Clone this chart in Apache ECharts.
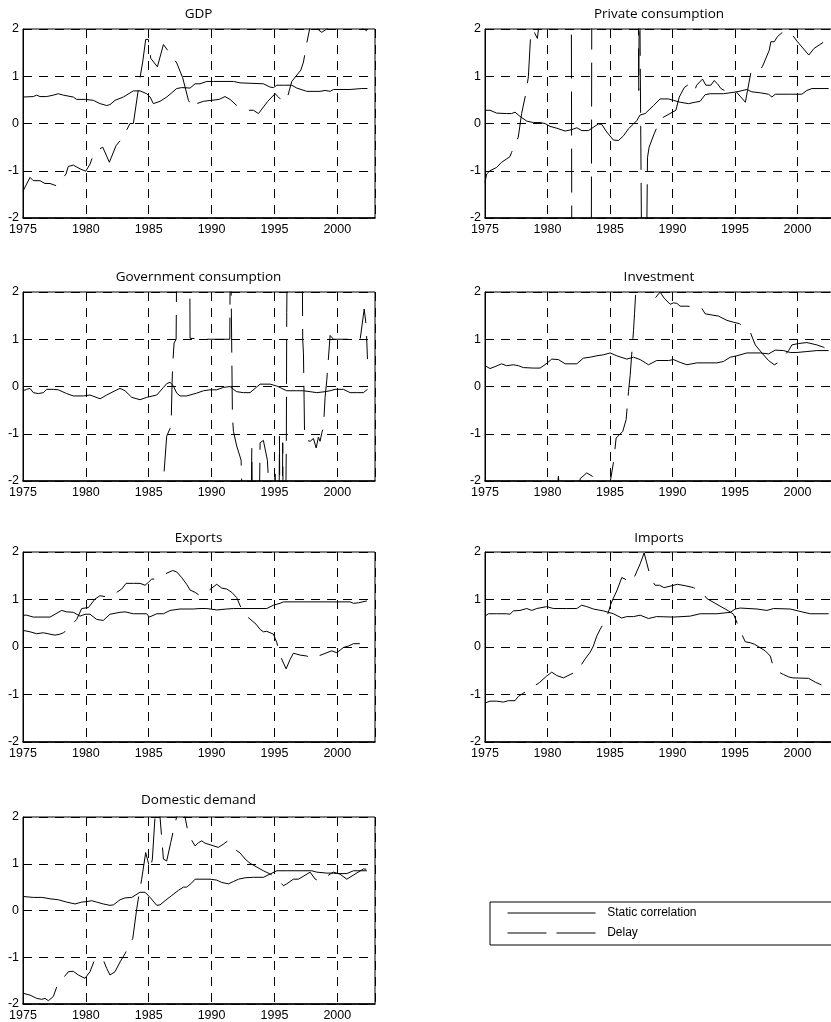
<!DOCTYPE html>
<html><head><meta charset="utf-8">
<script src="https://cdn.jsdelivr.net/npm/echarts/dist/echarts.min.js"></script>
<style>html,body{margin:0;padding:0;background:#fff}#c{width:831px;height:1022px}</style>
</head><body><div id="c"></div>
<script>
const panelTitles = ['GDP','Private consumption','Government consumption','Investment','Exports','Imports','Domestic demand'];
const seriesNames = ['Static correlation','Delay'];
const yearTicks = [1975,1980,1985,1990,1995,2000];
const valueTicks = [-2,-1,0,1,2];

const gdpStatic = [[1975.0,0.56],[1975.82,0.57],[1976.09,0.6],[1976.35,0.57],[1976.88,0.57],[1977.41,0.6],[1977.81,0.63],[1978.21,0.6],[1979.0,0.56],[1979.27,0.51],[1979.99,0.51],[1980.6,0.49],[1981.13,0.42],[1981.66,0.38],[1981.92,0.4],[1982.32,0.49],[1982.98,0.56],[1983.78,0.69],[1984.31,0.69],[1984.84,0.63],[1985.11,0.56],[1985.37,0.42],[1985.45,0.4],[1985.9,0.47],[1986.43,0.56],[1987.23,0.74],[1987.63,0.76],[1988.29,0.75],[1988.69,0.84],[1989.08,0.84],[1989.62,0.89],[1990.15,0.89],[1991.74,0.89],[1992.27,0.86],[1994.12,0.84],[1994.66,0.77],[1994.92,0.76],[1995.19,0.81],[1995.72,0.81],[1996.38,0.81],[1996.78,0.75],[1997.57,0.68],[1998.63,0.68],[1999.03,0.7],[1999.43,0.68],[1999.7,0.72],[2001.02,0.72],[2001.95,0.74],[2002.4,0.74]];
const gdpDelay = [[1975.0,-1.43],[1975.56,-1.14],[1975.82,-1.21],[1976.35,-1.21],[1976.75,-1.27],[1977.15,-1.27],[1977.68,-1.32],[1978.42,-1.07],[1978.6,-0.91],[1979.0,-0.88],[1979.54,-0.96],[1979.99,-1.01],[1980.33,-0.86],[1980.65,-0.62],[1981.34,-0.5],[1981.87,-0.82],[1982.4,-0.47],[1982.98,-0.28],[1983.51,0.0],[1983.78,0.0],[1984.31,0.97],[1984.52,1.3],[1984.76,1.78],[1984.97,1.78],[1985.16,1.38],[1985.69,1.2],[1986.17,1.67],[1986.7,1.48],[1987.23,1.28],[1987.7,0.97],[1988.16,0.49],[1988.5,0.33],[1988.82,0.42],[1989.35,0.47],[1990.6,0.51],[1991.07,0.57],[1991.47,0.51],[1992.0,0.38],[1992.8,0.28],[1993.33,0.28],[1993.73,0.21],[1994.47,0.47],[1995.05,0.63],[1995.32,0.56],[1995.72,0.45],[1996.04,0.56],[1996.38,0.89],[1997.1,1.13],[1997.31,1.3],[1997.57,1.7],[1997.84,2.05],[1998.2,2.15],[1998.5,1.98],[1998.77,1.93],[1999.16,2.0],[1999.6,2.1],[2000.5,2.15],[2001.5,2.1],[2002.35,1.96]];

const privStatic = [[1975.0,0.28],[1975.4,0.28],[1975.93,0.22],[1976.73,0.21],[1977.13,0.21],[1977.4,0.24],[1977.8,0.15],[1978.34,0.05],[1978.87,0.02],[1979.4,0.02],[1979.8,0.0],[1980.2,-0.06],[1980.74,-0.1],[1981.41,-0.16],[1981.94,-0.13],[1982.34,-0.09],[1982.74,-0.15],[1983.27,-0.15],[1983.67,-0.08],[1984.07,-0.01],[1984.34,-0.02],[1984.74,-0.18],[1985.27,-0.35],[1985.68,-0.36],[1986.08,-0.26],[1986.48,-0.11],[1986.88,-0.01],[1987.14,0.06],[1987.41,0.18],[1987.81,0.21],[1988.48,0.38],[1989.01,0.52],[1989.68,0.52],[1990.08,0.49],[1990.61,0.45],[1991.28,0.42],[1991.81,0.45],[1992.21,0.47],[1992.61,0.61],[1993.01,0.63],[1994.08,0.63],[1995.15,0.67],[1995.95,0.72],[1996.35,0.67],[1997.02,0.65],[1997.68,0.62],[1997.95,0.56],[1998.22,0.62],[1999.42,0.62],[2000.35,0.62],[2000.75,0.7],[2001.15,0.74],[2002.49,0.74]];
const privDelay = [[1975.0,-1.25],[1975.13,-1.07],[1975.4,-1.0],[1975.93,-0.93],[1976.33,-0.82],[1976.73,-0.75],[1977.0,-0.7],[1977.13,-0.61],[1977.66,-0.29],[1977.93,0.21],[1978.28,0.65],[1978.47,0.99],[1978.66,1.91],[1978.87,1.98],[1979.0,1.9],[1979.19,1.8],[1979.3,2.05],[1980.5,2.6],[1981.9,3.5],[1981.95,-3.5],[1983.5,-3.5],[1983.55,3.5],[1987.25,3.5],[1987.3,0.7],[1987.36,3.5],[1987.42,3.5],[1987.55,-3.5],[1987.9,-3.5],[1988.0,-0.72],[1988.13,-0.5],[1988.53,-0.22],[1988.93,0.03],[1989.25,0.13],[1990.27,0.28],[1990.54,0.56],[1990.94,0.76],[1991.2,0.81],[1991.6,0.74],[1991.74,0.67],[1991.93,0.81],[1992.4,0.94],[1992.67,0.81],[1993.07,0.81],[1993.33,0.91],[1993.6,0.84],[1993.87,0.74],[1994.14,0.7],[1994.54,0.74],[1994.94,0.72],[1995.83,0.45],[1996.0,0.7],[1996.28,1.09],[1996.54,1.11],[1996.94,1.11],[1997.2,1.21],[1997.74,1.55],[1997.87,1.73],[1998.14,1.73],[1998.4,1.84],[1998.8,1.93],[1999.2,1.96],[1999.6,1.87],[2000.0,1.73],[2000.9,1.45],[2001.33,1.59],[2001.73,1.66],[2002.13,1.73],[2002.4,1.78]];

const govStatic = [[1975.0,-0.09],[1975.29,-0.06],[1975.56,-0.04],[1975.82,-0.13],[1976.22,-0.15],[1976.62,-0.13],[1976.88,-0.06],[1977.41,-0.06],[1977.81,-0.07],[1978.47,-0.15],[1979.0,-0.2],[1979.8,-0.2],[1980.33,-0.18],[1981.13,-0.26],[1981.66,-0.18],[1982.32,-0.09],[1982.72,-0.04],[1983.12,-0.09],[1983.65,-0.23],[1984.31,-0.28],[1984.84,-0.23],[1985.64,-0.18],[1986.17,-0.02],[1986.43,0.06],[1986.7,0.09],[1986.96,0.01],[1987.23,-0.14],[1987.49,-0.2],[1988.02,-0.2],[1988.82,-0.14],[1989.35,-0.09],[1989.88,-0.07],[1990.41,-0.07],[1990.94,-0.02],[1991.47,0.0],[1991.74,-0.06],[1992.0,-0.11],[1992.53,-0.13],[1993.06,-0.13],[1993.59,-0.01],[1993.86,0.05],[1994.66,0.05],[1995.19,0.01],[1995.58,-0.04],[1995.98,-0.09],[1996.78,-0.09],[1997.31,-0.09],[1997.84,-0.11],[1998.37,-0.13],[1999.03,-0.11],[1999.43,-0.09],[1999.83,-0.06],[2000.49,-0.06],[2001.02,-0.13],[2001.55,-0.13],[2002.08,-0.13],[2002.4,-0.06]];
const govDelay = [[1985.9,-3],[1986.43,-1.05],[1986.78,-0.84],[1986.86,0.08],[1986.91,0.48],[1987.02,0.92],[1987.18,1.0],[1987.25,3.5],[1988.25,3.5],[1988.29,1.02],[1989.9,1.0],[1991.45,1.0],[1991.5,3.5],[1991.66,-0.64],[1991.74,-0.95],[1992.0,-1.26],[1992.35,-1.56],[1992.45,-2.6],[1993.15,-2.6],[1993.2,-1.31],[1993.25,-2.6],[1993.8,-2.6],[1993.86,-1.19],[1994.12,-1.14],[1994.44,-1.56],[1994.66,-2.6],[1995.02,-2.6],[1995.05,-1.85],[1995.08,-2.6],[1995.37,-2.6],[1995.4,-1.05],[1995.43,-2.6],[1995.63,-2.6],[1995.66,-1.19],[1995.69,-2.6],[1995.9,-2.6],[1995.95,-1.05],[1995.98,1.57],[1996.05,3.5],[1997.2,3.5],[1997.25,1.0],[1997.31,0.69],[1997.36,-0.28],[1997.4,-1.05],[1997.44,-1.13],[1997.84,-1.16],[1998.1,-1.1],[1998.32,-1.3],[1998.5,-1.07],[1998.63,-1.16],[1998.77,-0.98],[1998.9,-0.87],[1999.03,-0.23],[1999.16,0.12],[1999.43,1.08],[1999.7,1.0],[2001.82,1.0],[2002.14,1.64],[2002.3,1.29],[2002.4,0.58]];

const invStatic = [[1975.0,0.44],[1975.4,0.38],[1975.8,0.42],[1976.33,0.48],[1976.73,0.44],[1977.27,0.46],[1977.67,0.44],[1978.07,0.4],[1978.87,0.39],[1979.4,0.39],[1979.8,0.46],[1980.34,0.58],[1980.87,0.57],[1981.41,0.48],[1982.34,0.48],[1982.87,0.6],[1983.41,0.62],[1983.94,0.65],[1984.47,0.67],[1985.01,0.71],[1985.54,0.65],[1986.34,0.58],[1986.88,0.62],[1987.41,0.57],[1988.08,0.46],[1988.74,0.55],[1989.68,0.55],[1990.08,0.57],[1990.61,0.51],[1991.15,0.46],[1991.95,0.5],[1992.75,0.5],[1993.55,0.5],[1994.08,0.53],[1994.62,0.62],[1995.15,0.65],[1995.95,0.71],[1997.02,0.71],[1997.68,0.69],[1998.22,0.77],[1998.89,0.76],[1999.42,0.72],[1999.95,0.72],[2000.75,0.74],[2001.55,0.76],[2002.49,0.76]];
const invDelay = [[1975.0,-2.5],[1980.75,-2.3],[1980.87,-1.9],[1981.0,-2.3],[1982.55,-2.2],[1982.61,-1.95],[1983.14,-1.83],[1983.6,-1.9],[1984.07,-2.05],[1984.74,-2.3],[1985.0,-2.05],[1985.3,-1.57],[1985.49,-1.09],[1986.02,-0.95],[1986.29,-0.7],[1986.48,-0.11],[1986.61,0.23],[1986.88,1.18],[1986.96,1.54],[1987.06,2.0],[1987.5,2.6],[1988.1,2.1],[1988.34,1.95],[1988.61,1.87],[1989.01,2.0],[1989.33,1.87],[1989.81,1.74],[1990.08,1.77],[1990.35,1.76],[1990.61,1.7],[1991.09,1.7],[1992.29,1.68],[1992.61,1.54],[1993.01,1.52],[1993.68,1.49],[1994.35,1.4],[1994.88,1.36],[1995.36,1.33],[1996.22,1.15],[1996.62,0.88],[1997.15,0.71],[1997.68,0.55],[1998.14,0.46],[1998.49,0.51],[1999.29,0.76],[1999.55,0.88],[2000.09,0.91],[2000.75,0.93],[2001.55,0.88],[2002.09,0.83],[2002.49,0.76]];

const expStatic = [[1975.0,0.67],[1975.29,0.67],[1975.82,0.63],[1977.15,0.63],[1977.55,0.69],[1978.08,0.77],[1978.47,0.74],[1979.0,0.73],[1979.54,0.65],[1979.93,0.69],[1980.33,0.69],[1980.86,0.58],[1981.39,0.56],[1981.92,0.69],[1982.72,0.73],[1983.12,0.74],[1983.78,0.7],[1984.84,0.7],[1985.05,0.63],[1985.64,0.7],[1986.17,0.7],[1986.7,0.77],[1987.49,0.8],[1988.55,0.8],[1989.08,0.81],[1989.62,0.81],[1990.41,0.78],[1991.21,0.8],[1991.74,0.81],[1993.06,0.81],[1994.39,0.81],[1994.92,0.88],[1995.45,0.92],[1995.72,0.95],[1997.04,0.95],[1999.7,0.95],[2001.02,0.95],[2001.29,0.92],[2001.68,0.93],[2002.35,0.97]];
const expDelay = [[1975.0,0.35],[1975.56,0.32],[1976.09,0.28],[1976.62,0.3],[1977.15,0.27],[1977.55,0.25],[1977.94,0.27],[1978.21,0.3],[1978.42,0.34],[1979.27,0.58],[1979.67,0.81],[1980.2,0.83],[1980.73,1.01],[1981.13,1.08],[1981.53,1.06],[1981.92,1.06],[1982.85,1.22],[1983.2,1.34],[1983.78,1.34],[1984.31,1.34],[1984.71,1.3],[1984.97,1.36],[1985.24,1.43],[1985.5,1.43],[1985.9,1.49],[1986.91,1.61],[1987.23,1.58],[1987.63,1.46],[1988.02,1.32],[1988.29,1.2],[1988.69,1.15],[1989.08,1.08],[1989.48,1.13],[1990.41,1.32],[1990.81,1.24],[1991.21,1.22],[1991.61,1.15],[1992.0,1.04],[1992.27,0.87],[1992.61,0.69],[1993.54,0.48],[1993.86,0.37],[1994.12,0.32],[1994.39,0.33],[1994.92,0.27],[1995.19,0.09],[1995.45,-0.18],[1995.93,-0.46],[1996.25,-0.26],[1996.51,-0.13],[1997.04,-0.17],[1997.57,-0.19],[1998.1,-0.25],[1998.5,-0.19],[1999.56,-0.08],[1999.96,-0.12],[2000.49,-0.01],[2000.89,0.02],[2001.29,0.07],[2001.82,0.07],[2002.35,0.13]];

const impStatic = [[1975.0,0.65],[1975.27,0.7],[1975.93,0.7],[1976.73,0.7],[1977.0,0.69],[1977.27,0.76],[1977.8,0.77],[1978.34,0.81],[1978.74,0.77],[1979.14,0.81],[1979.94,0.85],[1980.47,0.81],[1981.54,0.81],[1982.34,0.81],[1982.74,0.88],[1983.14,0.85],[1983.67,0.8],[1984.47,0.76],[1984.87,0.73],[1985.27,0.7],[1985.94,0.61],[1986.34,0.64],[1986.88,0.64],[1987.41,0.67],[1988.08,0.6],[1988.74,0.64],[1990.08,0.63],[1991.41,0.65],[1992.21,0.7],[1993.55,0.7],[1994.62,0.73],[1995.02,0.8],[1995.42,0.82],[1996.75,0.8],[1997.55,0.77],[1998.09,0.81],[1999.42,0.8],[2000.35,0.74],[2001.02,0.7],[2002.49,0.7]];
const impDelay = [[1975.0,-1.18],[1975.4,-1.14],[1975.93,-1.14],[1976.47,-1.16],[1976.87,-1.13],[1977.4,-1.13],[1977.67,-1.04],[1978.2,-0.95],[1979.35,-0.75],[1979.94,-0.61],[1980.34,-0.53],[1980.74,-0.6],[1981.27,-0.65],[1981.81,-0.58],[1982.39,-0.51],[1983.01,-0.25],[1983.41,-0.11],[1983.67,0.02],[1983.94,0.23],[1984.21,0.37],[1984.74,0.62],[1985.06,0.9],[1985.27,1.03],[1985.54,1.18],[1985.94,1.46],[1986.21,1.43],[1986.48,1.35],[1986.88,1.43],[1987.41,1.75],[1987.73,1.98],[1987.94,1.77],[1988.26,1.44],[1988.61,1.3],[1988.96,1.3],[1989.33,1.25],[1990.4,1.32],[1991.01,1.29],[1991.68,1.25],[1992.35,1.16],[1992.75,1.02],[1993.41,0.92],[1994.48,0.76],[1994.88,0.69],[1995.42,0.34],[1995.82,0.11],[1996.22,0.09],[1996.54,0.06],[1997.42,-0.08],[1997.82,-0.19],[1998.09,-0.44],[1998.35,-0.51],[1998.89,-0.58],[1999.29,-0.63],[1999.63,-0.65],[2000.89,-0.66],[2001.42,-0.74],[2002.09,-0.82],[2002.49,-0.89]];

const domStatic = [[1975.0,0.3],[1975.82,0.28],[1976.49,0.28],[1976.62,0.25],[1976.75,0.27],[1977.15,0.25],[1977.81,0.23],[1978.47,0.18],[1979.14,0.14],[1979.67,0.18],[1980.07,0.19],[1980.46,0.21],[1980.86,0.18],[1981.39,0.14],[1981.92,0.11],[1982.19,0.12],[1982.72,0.23],[1983.12,0.27],[1983.65,0.28],[1984.31,0.39],[1984.71,0.39],[1985.11,0.28],[1985.64,0.11],[1985.9,0.12],[1986.3,0.21],[1986.83,0.32],[1987.36,0.43],[1987.76,0.5],[1988.02,0.5],[1988.42,0.59],[1988.69,0.67],[1989.08,0.67],[1989.88,0.67],[1990.41,0.65],[1990.81,0.6],[1991.34,0.57],[1991.74,0.62],[1992.14,0.67],[1992.67,0.7],[1993.33,0.71],[1994.12,0.71],[1994.66,0.78],[1995.19,0.85],[1995.98,0.85],[1997.04,0.85],[1997.97,0.85],[1998.37,0.82],[1999.16,0.8],[1999.7,0.8],[1999.96,0.79],[2000.76,0.79],[2001.29,0.85],[2002.35,0.85]];
const domDelay = [[1975.0,-1.77],[1975.56,-1.81],[1976.09,-1.88],[1976.49,-1.9],[1976.75,-1.88],[1977.02,-1.93],[1977.41,-1.84],[1977.73,-1.6],[1978.61,-1.31],[1979.0,-1.3],[1979.4,-1.38],[1979.93,-1.45],[1980.33,-1.31],[1980.73,-1.03],[1981.39,-1.06],[1981.66,-1.24],[1981.92,-1.38],[1982.32,-1.31],[1982.72,-1.1],[1983.12,-0.92],[1983.73,-0.6],[1984.05,0.04],[1984.23,0.35],[1984.44,0.67],[1984.76,1.24],[1985.11,0.87],[1985.29,1.1],[1985.5,2.0],[1985.7,2.4],[1985.9,2.0],[1986.17,1.1],[1986.43,1.06],[1986.75,1.45],[1987.1,1.88],[1987.23,2.0],[1987.55,2.3],[1987.89,2.0],[1988.08,1.74],[1988.29,1.56],[1988.69,1.38],[1988.95,1.45],[1989.22,1.49],[1989.48,1.44],[1990.54,1.35],[1990.94,1.42],[1991.29,1.49],[1991.74,1.38],[1992.0,1.28],[1992.27,1.23],[1992.67,1.1],[1993.06,1.01],[1994.12,0.85],[1994.66,0.78],[1994.92,0.74],[1995.32,0.64],[1995.72,0.53],[1995.98,0.57],[1996.51,0.67],[1996.91,0.67],[1997.84,0.82],[1998.24,0.67],[1998.5,0.64],[1998.9,0.67],[1999.43,0.78],[1999.7,0.82],[2000.2,0.78],[2000.76,0.67],[2002.08,0.89],[2002.35,0.88]];

const staticSeries = [gdpStatic, privStatic, govStatic, invStatic, expStatic, impStatic, domStatic];
const delaySeries = [gdpDelay, privDelay, govDelay, invDelay, expDelay, impDelay, domDelay];

// layout (pixels)
const gridBoxes = [
  {left:23, top:29, width:352, height:189},
  {left:485, top:29, width:350, height:189},
  {left:23, top:292, width:352, height:189},
  {left:485, top:292, width:350, height:189},
  {left:23, top:552, width:352, height:190},
  {left:485, top:552, width:350, height:190},
  {left:23, top:817, width:352, height:187}
];
const titleCenters = [198.5, 659, 198.5, 659, 198.5, 659, 198.5];
const titleTops = [7, 7, 270, 270, 531.5, 531.5, 793.5];

const tickFont = {color:'#000', fontFamily:'Liberation Sans, Arial, sans-serif', fontSize:12.5};
const gridDash = {color:'#000', width:1, type:[9,7]};

const option = {
  animation:false,
  backgroundColor:'#fff',
  title: panelTitles.map((t,i)=>({
    text:t, left:titleCenters[i], top:titleTops[i], textAlign:'center', padding:0,
    textStyle:{fontFamily:'Open Sans, Lato, sans-serif', fontSize:13.5, fontWeight:'normal', color:'#000'}
  })),
  grid: gridBoxes.map(g=>Object.assign({show:true, borderColor:'#000', borderWidth:1, backgroundColor:'transparent', containLabel:false, outerBoundsMode:'none'}, g)),
  xAxis: gridBoxes.map((g,i)=>({
    gridIndex:i, type:'value', min:1975, max:2003, interval:5,
    axisLine:{show:true, onZero:false, lineStyle:{color:'#000', width:1.5}},
    axisTick:{show:false},
    axisLabel:Object.assign({margin:5, formatter:v=>yearTicks.includes(v)?String(v):''}, tickFont),
    splitLine:{show:true, lineStyle:gridDash}
  })),
  yAxis: gridBoxes.map((g,i)=>({
    gridIndex:i, type:'value', min:valueTicks[0], max:valueTicks[valueTicks.length-1], interval:1,
    axisLine:{show:true, lineStyle:{color:'#000', width:1}},
    axisTick:{show:false},
    axisLabel:Object.assign({margin:4}, tickFont),
    splitLine:{show:true, lineStyle:gridDash}
  })),
  legend:{
    left:490, top:902, orient:'vertical',
    itemWidth:88, itemHeight:10, itemGap:8,
    padding:[5,400,6,17],
    borderColor:'#000', borderWidth:1, backgroundColor:'#fff',
    itemStyle:{opacity:0},
    lineStyle:{width:1, color:'#000'},
    data:[
      {name:seriesNames[0]},
      {name:seriesNames[1], lineStyle:{type:[39,10], width:1, color:'#000'}}
    ],
    formatter:n=>'  '+n,
    textStyle:{fontFamily:'Liberation Sans, Arial, sans-serif', fontSize:12, color:'#000'}
  },
  series: []
};
for (let i=0;i<7;i++){
  option.series.push({
    type:'line', name:seriesNames[0], xAxisIndex:i, yAxisIndex:i, data:staticSeries[i],
    symbol:'none', showSymbol:false, clip:true, silent:true, z:3,
    lineStyle:{color:'#000', width:1}, itemStyle:{color:'#000'}
  });
  option.series.push({
    type:'line', name:seriesNames[1], xAxisIndex:i, yAxisIndex:i, data:delaySeries[i],
    symbol:'none', showSymbol:false, clip:true, silent:true, z:3,
    lineStyle:{color:'#000', width:1, type:[44,13]}, itemStyle:{color:'#000'}
  });
}
const chart = echarts.init(document.getElementById('c'), null, {renderer:'canvas'});
chart.setOption(option);
</script>
</body></html>
